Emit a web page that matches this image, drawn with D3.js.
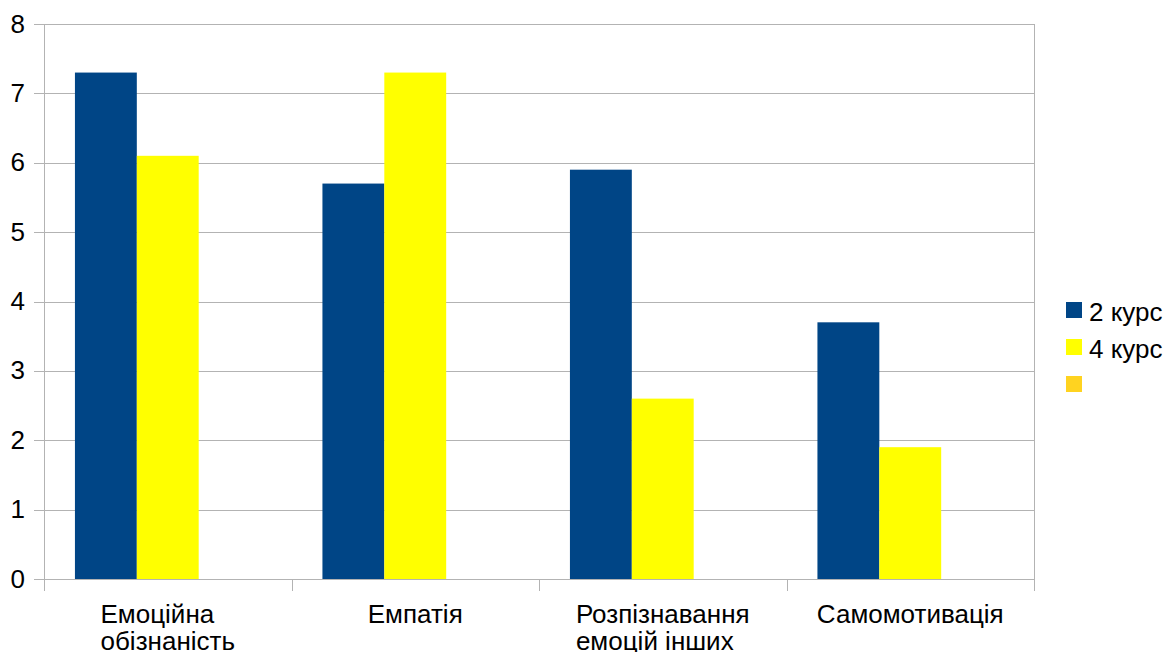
<!DOCTYPE html>
<html>
<head>
<meta charset="utf-8">
<script src="https://cdn.jsdelivr.net/npm/d3@7"></script>
<style>
  html, body { margin: 0; padding: 0; background: #fff; }
  svg { display: block; font-family: "Liberation Sans", Arial, sans-serif; }
</style>
</head>
<body>
<svg id="chart" width="1168" height="652"></svg>
<script>
const categories = [["Емоційна", "обізнаність"], ["Емпатія"], ["Розпізнавання", "емоцій інших"], ["Самомотивація"]];
const seriesNames = ["2 курс", "4 курс", ""];
const series2 = [7.3, 5.7, 5.9, 3.7];
const series4 = [6.1, 7.3, 2.6, 1.9];
const series3 = [null, null, null, null];
const yTicks = [0, 1, 2, 3, 4, 5, 6, 7, 8];
const colors = ["#004586", "#ffff00", "#ffd320"];

const seriesValues = [series2, series4, series3];
const svg = d3.select("#chart");
const L = 44, R = 1034, T = 24, B = 579;
const gridColor = "#b3b3b3";

const catKeys = categories.map((c, i) => i);
const x0 = d3.scaleBand().domain(catKeys).range([L, R]).padding(0);
const x1 = d3.scaleBand().domain([0, 1, 2]).range([0, x0.bandwidth()]).paddingInner(0).paddingOuter(0.5);
const y = d3.scaleLinear().domain([0, 8]).range([B, T]);

// gridlines
svg.append("g").selectAll("line").data(yTicks).join("line")
  .attr("x1", L - 10).attr("x2", R)
  .attr("y1", d => Math.round(y(d)) + 0.5).attr("y2", d => Math.round(y(d)) + 0.5)
  .attr("stroke", gridColor).attr("stroke-width", 1);

// wall border verticals
svg.append("line").attr("x1", L + 0.5).attr("x2", L + 0.5).attr("y1", T).attr("y2", B + 12)
  .attr("stroke", gridColor);
svg.append("line").attr("x1", R + 0.5).attr("x2", R + 0.5).attr("y1", T).attr("y2", B + 12)
  .attr("stroke", gridColor);
// category ticks
svg.append("g").selectAll("line").data(catKeys.slice(1)).join("line")
  .attr("x1", d => Math.round(x0(d)) + 0.5).attr("x2", d => Math.round(x0(d)) + 0.5)
  .attr("y1", B).attr("y2", B + 12)
  .attr("stroke", gridColor);

// bars
seriesValues.forEach((vals, si) => {
  svg.append("g").selectAll("rect").data(vals.map((v, i) => ({v, i})).filter(d => d.v != null)).join("rect")
    .attr("x", d => x0(d.i) + x1(si))
    .attr("width", x1.bandwidth())
    .attr("y", d => y(d.v))
    .attr("height", d => y(0) - y(d.v))
    .attr("fill", colors[si]);
});

// y tick labels
svg.append("g").selectAll("text").data(yTicks).join("text")
  .attr("x", 25).attr("y", d => y(d)).attr("dy", "0.33em")
  .attr("text-anchor", "end").attr("font-size", 26).attr("fill", "#000")
  .text(d => d);

// category labels (block centered, lines left-aligned)
const catG = svg.append("g");
categories.forEach((lines, i) => {
  const t = catG.append("text").attr("font-size", 26).attr("fill", "#000");
  lines.forEach((ln, j) => {
    t.append("tspan").attr("x", 0).attr("y", 623 + j * 27).text(ln);
  });
  const w = t.node().getBBox().width;
  const cx = x0(i) + x0.bandwidth() / 2;
  t.attr("transform", `translate(${cx - w / 2},0)`);
});

// legend
const lg = svg.append("g");
seriesNames.forEach((name, i) => {
  lg.append("rect").attr("x", 1066).attr("y", 302 + i * 37).attr("width", 16).attr("height", 16).attr("fill", colors[i]);
  lg.append("text").attr("x", 1089).attr("y", 321 + i * 37).attr("font-size", 26).attr("fill", "#000").text(name);
});
</script>
</body>
</html>
